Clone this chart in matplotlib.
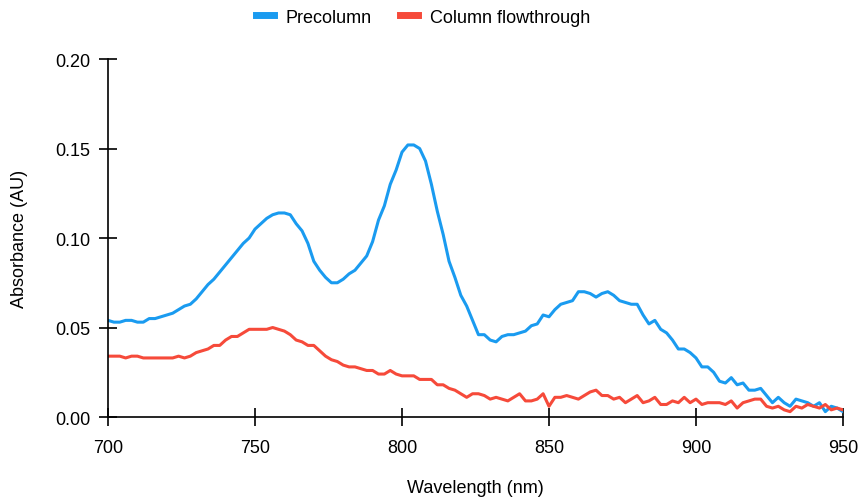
import matplotlib.pyplot as plt
import numpy as np

plt.rcParams['font.family'] = ['Liberation Sans', 'DejaVu Sans']

wavelength = np.arange(700, 951, 2)

precolumn = [
    0.054, 0.053, 0.053, 0.054, 0.054, 0.053, 0.053, 0.055, 0.055,
    0.056, 0.057, 0.058, 0.060, 0.062, 0.063, 0.066, 0.070, 0.074, 0.077,
    0.081, 0.085, 0.089, 0.093, 0.097, 0.100, 0.105, 0.108, 0.111, 0.113,
    0.114, 0.114, 0.113, 0.108, 0.104, 0.097, 0.087, 0.082, 0.078, 0.075,
    0.075, 0.077, 0.080, 0.082, 0.086, 0.090, 0.098, 0.110, 0.118, 0.130,
    0.138, 0.148, 0.152, 0.152, 0.150, 0.143, 0.130, 0.115, 0.102, 0.087,
    0.078, 0.068, 0.062, 0.054, 0.046, 0.046, 0.043, 0.042, 0.045, 0.046, 0.046,
    0.047, 0.048, 0.051, 0.052, 0.057, 0.056, 0.060, 0.063, 0.064, 0.065,
    0.070, 0.070, 0.069, 0.067, 0.069, 0.070, 0.068, 0.065, 0.064, 0.063,
    0.063, 0.057, 0.052, 0.054, 0.049, 0.047, 0.043, 0.038, 0.038, 0.036,
    0.033, 0.028, 0.028, 0.025, 0.020, 0.019, 0.022, 0.018, 0.019, 0.015,
    0.015, 0.016, 0.012, 0.008, 0.011, 0.008, 0.006, 0.010, 0.009, 0.008,
    0.006, 0.008, 0.003, 0.006, 0.005, 0.003,
]

flowthrough = [
    0.034, 0.034, 0.034, 0.033, 0.034, 0.034, 0.033, 0.033, 0.033, 0.033,
    0.033, 0.033, 0.034, 0.033, 0.034, 0.036, 0.037, 0.038, 0.040, 0.040,
    0.043, 0.045, 0.045, 0.047, 0.049, 0.049, 0.049, 0.049, 0.050, 0.049,
    0.048, 0.046, 0.043, 0.042, 0.040, 0.040, 0.037, 0.034, 0.032, 0.031,
    0.029, 0.028, 0.028, 0.027, 0.026, 0.026, 0.024, 0.024, 0.026, 0.024,
    0.023, 0.023, 0.023, 0.021, 0.021, 0.021, 0.018, 0.018, 0.016, 0.015,
    0.013, 0.011, 0.013, 0.013, 0.012, 0.010, 0.011, 0.010, 0.009, 0.011,
    0.013, 0.009, 0.009, 0.010, 0.013, 0.006, 0.011, 0.011, 0.012, 0.011,
    0.010, 0.012, 0.014, 0.015, 0.012, 0.012, 0.010, 0.011, 0.008, 0.010,
    0.012, 0.008, 0.009, 0.011, 0.007, 0.007, 0.009, 0.008, 0.011, 0.008,
    0.010, 0.007, 0.008, 0.008, 0.008, 0.007, 0.009, 0.005, 0.008, 0.009,
    0.010, 0.010, 0.006, 0.005, 0.006, 0.004, 0.003, 0.006, 0.005, 0.007,
    0.006, 0.005, 0.007, 0.004, 0.005, 0.004,
]

blue = '#1a9bf0'
red = '#f64a3a'

fig = plt.figure(figsize=(8.58, 5.02), dpi=100)
ax = fig.add_axes([0.1259, 0.1673, 0.8566, 0.7131])

ax.plot(wavelength, precolumn, color=blue, lw=2.2, label='Precolumn')
ax.plot(wavelength, flowthrough, color=red, lw=2.2, label='Column flowthrough')

ax.set_xlim(700, 950)
ax.set_ylim(0, 0.2)
ax.set_xticks([700, 750, 800, 850, 900, 950])
ax.set_yticks([0.0, 0.05, 0.10, 0.15, 0.20])
ax.set_yticklabels(['0.00', '0.05', '0.10', '0.15', '0.20'])

for s in ['top', 'right']:
    ax.spines[s].set_visible(False)
for s in ['left', 'bottom']:
    ax.spines[s].set_linewidth(1.2)
ax.tick_params(direction='inout', length=13, width=1.2, labelsize=13)
ax.tick_params(axis='x', pad=9)
ax.tick_params(axis='y', pad=6)

ax.set_xlabel('Wavelength (nm)', fontsize=13, labelpad=17)
ax.set_ylabel('Absorbance (AU)', fontsize=13, labelpad=20)

ax.legend(loc='center', bbox_to_anchor=(0.4286, 1.117), ncol=2, frameon=False,
          fontsize=13, handlelength=1.0, handletextpad=0.65, columnspacing=1.55)
leg = ax.get_legend()
for h in leg.get_lines():
    h.set_linewidth(5)

fig.savefig('out.png', dpi=100)
